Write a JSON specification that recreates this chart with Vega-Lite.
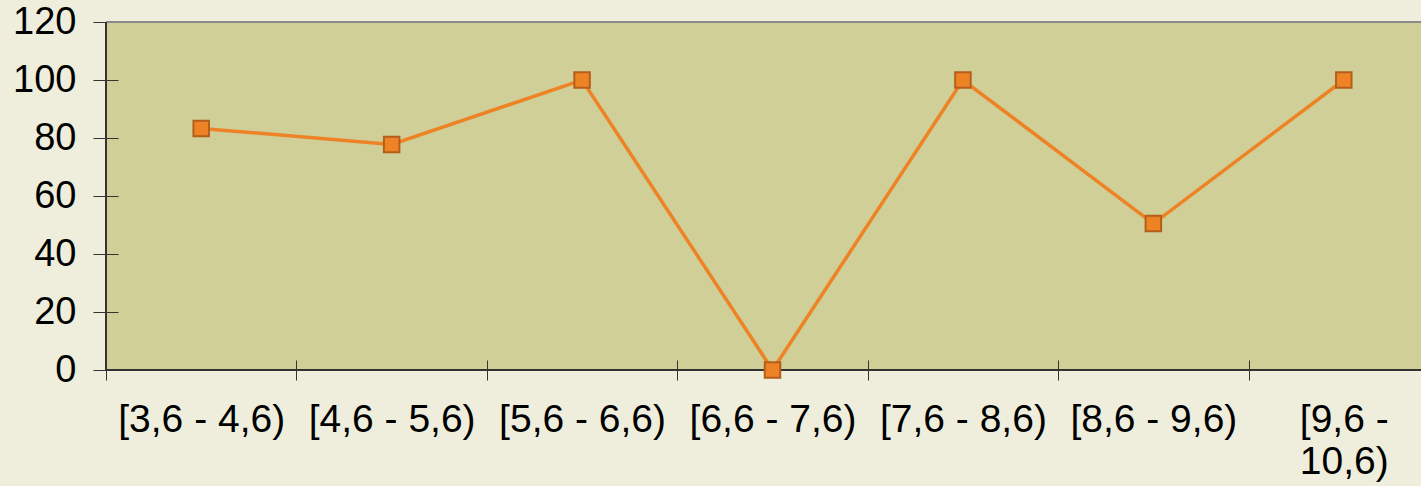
{
  "$schema": "https://vega.github.io/schema/vega-lite/v6.json",
  "autosize": "none",
  "padding": {"left": 106, "top": 22, "right": 0, "bottom": 116},
  "width": 1315,
  "height": 348,
  "background": "#efeedc",
  "config": {
    "view": {"fill": "#d0cf98", "stroke": null},
    "axis": {"labelFont": "Liberation Sans", "labelFontSize": 38, "labelColor": "#000000", "grid": false}
  },
  "data": {
    "values": [
      {"range": "[3,6 - 4,6)", "value": 83.3},
      {"range": "[4,6 - 5,6)", "value": 77.8},
      {"range": "[5,6 - 6,6)", "value": 100},
      {"range": "[6,6 - 7,6)", "value": 0},
      {"range": "[7,6 - 8,6)", "value": 100},
      {"range": "[8,6 - 9,6)", "value": 50.5},
      {"range": "[9,6 - 10,6)", "value": 100}
    ]
  },
  "encoding": {
    "x": {
      "field": "range", "type": "nominal", "sort": null, "title": null,
      "scale": {"range": [0, 1333], "paddingInner": 0, "paddingOuter": 0},
      "axis": {
        "orient": "bottom", "tickBand": "extent", "tickSize": 20, "offset": -10, "tickColor": "#333333",
        "domain": false, "labelAngle": 0, "labelPadding": 20, "labelFontSize": 39,
        "labelLineHeight": 42, "labelLimit": 0,
        "labelExpr": "datum.value == '[9,6 - 10,6)' ? ['[9,6 -', '10,6)'] : datum.value"
      }
    },
    "y": {
      "field": "value", "type": "quantitative", "title": null,
      "scale": {"domain": [0, 120], "nice": false},
      "axis": {
        "orient": "left", "values": [0, 20, 40, 60, 80, 100, 120], "tickSize": 25, "offset": -12,
        "tickColor": "#333333", "domain": false, "labelPadding": 17
      }
    }
  },
  "layer": [
    {
      "mark": {"type": "rule", "color": "#8a8a8a", "strokeWidth": 2},
      "encoding": {"y": {"datum": 120}, "x": null}
    },
    {
      "mark": {"type": "rule", "color": "#333333", "strokeWidth": 1.5},
      "encoding": {"y": {"datum": 0}, "x": null}
    },
    {
      "mark": {"type": "rule", "color": "#333333", "strokeWidth": 2},
      "encoding": {"x": {"datum": "[3,6 - 4,6)", "bandPosition": 0}, "y": null}
    },
    {
      "mark": {"type": "line", "color": "#ee8326", "strokeWidth": 3.5}
    },
    {
      "mark": {"type": "point", "shape": "square", "filled": true, "size": 240, "fill": "#ee8326", "stroke": "#b45e1b", "strokeWidth": 2, "opacity": 1}
    }
  ]
}
